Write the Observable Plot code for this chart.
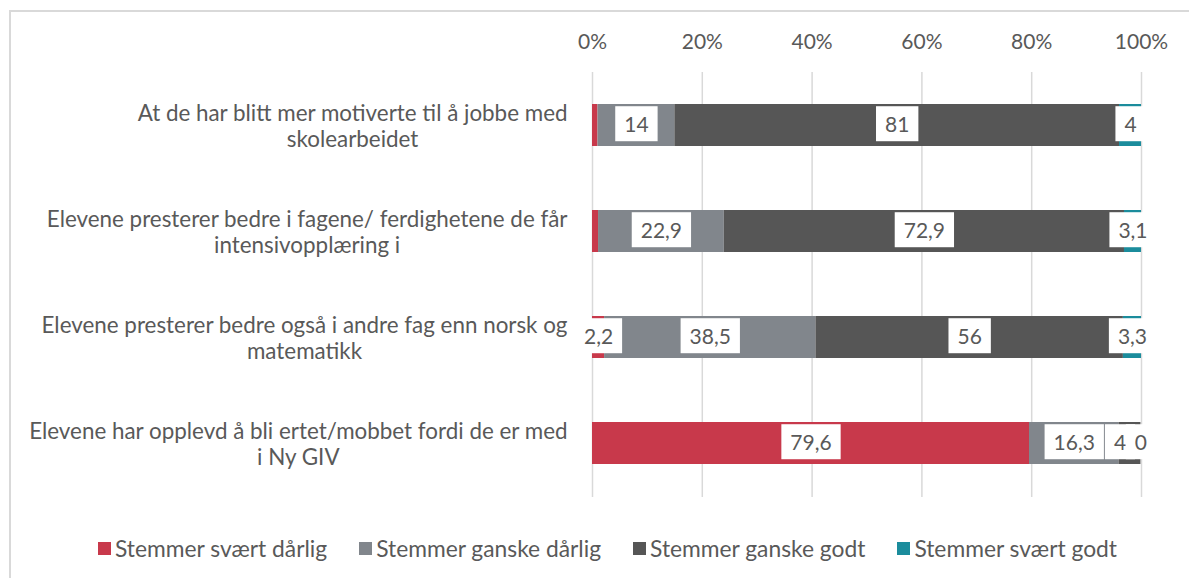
<!DOCTYPE html>
<html><head><meta charset="utf-8">
<script src="https://cdn.jsdelivr.net/npm/d3@7"></script>
<script src="https://cdn.jsdelivr.net/npm/@observablehq/plot@0.6"></script>
<style>
body{margin:0;background:#fff;overflow:hidden;width:1189px;height:578px;position:relative;font-family:Lato,"Open Sans",sans-serif;}
#frame{position:absolute;left:9px;top:10px;width:1300px;height:700px;border-left:2px solid #d9d9d9;border-top:2px solid #d9d9d9;box-sizing:border-box;}
#chart{position:absolute;left:0;top:0;}
#legend{position:absolute;left:0;top:536px;width:1189px;height:24px;display:flex;justify-content:center;align-items:center;padding-left:26px;box-sizing:border-box;font-size:22.8px;color:#595959;}
#legend .item{display:flex;align-items:center;margin:0 16px;white-space:nowrap;}
#legend .sw{width:13px;height:13px;margin-right:4px;display:inline-block;}
</style></head>
<body>
<div id="frame"></div>
<div id="chart"></div>
<div id="legend"></div>
<script>
const questions = [
  "At de har blitt mer motiverte til å jobbe med\nskolearbeidet",
  "Elevene presterer bedre i fagene/ ferdighetene de får\nintensivopplæring i",
  "Elevene presterer bedre også i andre fag enn norsk og\nmatematikk",
  "Elevene har opplevd å bli ertet/mobbet fordi de er med\ni Ny GIV"
];
const categories = ["Stemmer svært dårlig", "Stemmer ganske dårlig", "Stemmer ganske godt", "Stemmer svært godt"];
const colors = ["#C8394B", "#81868C", "#565656", "#1B8C9C"];
const sværtDårlig = [1, 1.1, 2.2, 79.6];
const ganskeDårlig = [14, 22.9, 38.5, 16.3];
const ganskeGodt = [81, 72.9, 56, 4];
const sværtGodt = [4, 3.1, 3.3, 0];
// whether a data label is shown (per question, per category)
const showLabel = [
  [false, true, true, true],
  [false, true, true, true],
  [true, true, true, true],
  [true, true, true, true]
];
const xTicks = [0, 20, 40, 60, 80, 100];

const series = [sværtDårlig, ganskeDårlig, ganskeGodt, sværtGodt];
const rows = [];
questions.forEach((q, i) => {
  categories.forEach((c, j) => {
    const v = series[j][i];
    rows.push({q, qi: i, ci: j, cat: c, value: v, label: showLabel[i][j] ? String(v).replace(".", ",") : null});
  });
});
// the crowded label in the last bar is nudged left, as in the original
const crowded = d => d.qi === 3 && d.ci === 2;

const textColor = "#595959";
const plot = Plot.plot({
  width: 1189,
  height: 510,
  marginLeft: 592,
  marginRight: 48,
  marginTop: 72,
  marginBottom: 13,
  style: {fontFamily: "Lato, 'Open Sans', sans-serif", background: "transparent"},
  x: {domain: [0, 100], label: null},
  y: {domain: questions, paddingInner: 0.6, paddingOuter: 0.3, axis: null},
  color: {domain: categories, range: colors},
  marks: [
    Plot.gridX(xTicks, {stroke: "#d9d9d9", strokeOpacity: 1, strokeWidth: 1.5}),
    Plot.axisX(xTicks, {anchor: "top", label: null, tickSize: 0, tickPadding: 24, tickFormat: d => d + "%", fontSize: 21, fill: textColor}),
    Plot.barX(rows, {x: "value", y: "q", fill: "cat"}),
    Plot.text(rows, Plot.stackX({x: "value", y: "q", z: "cat", text: d => crowded(d) ? d.label : null, dx: -10, fontSize: 21, fill: textColor})),
    Plot.text(rows, Plot.stackX({x: "value", y: "q", z: "cat", text: d => crowded(d) ? null : d.label, fontSize: 21, fill: textColor})),
    Plot.text(questions, {x: 0, y: d => d, text: d => d, textAnchor: "end", dx: -25, lineHeight: 1.18, fontSize: 22.4, fill: textColor})
  ]
});
document.getElementById("chart").append(plot);

const textGroups = plot.querySelectorAll('g[aria-label="text"]');
const yGroup = textGroups[textGroups.length - 1];
const ns = "http://www.w3.org/2000/svg";
Array.from(textGroups).slice(0, textGroups.length - 1).forEach(g => {
  g.querySelectorAll("text").forEach(t => {
    if (!t.textContent) return;
    const b = t.getBBox();
    const w = b.width + 18, h = 35;
    const r = document.createElementNS(ns, "rect");
    r.setAttribute("x", b.x + b.width / 2 - w / 2);
    r.setAttribute("y", b.y + b.height / 2 - h / 2);
    r.setAttribute("width", w);
    r.setAttribute("height", h);
    r.setAttribute("fill", "white");
    const tr = t.getAttribute("transform");
    if (tr) r.setAttribute("transform", tr);
    t.parentNode.insertBefore(r, t);
  });
});
yGroup.querySelectorAll("text").forEach(t => {
  const spans = t.querySelectorAll("tspan");
  let W = 0;
  (spans.length ? Array.from(spans) : [t]).forEach(s => { W = Math.max(W, s.getComputedTextLength()); });
  t.setAttribute("text-anchor", "middle");
  const tr = t.getAttribute("transform") || "";
  t.setAttribute("transform", tr + ` translate(${-W / 2},0)`);
});

const legend = document.getElementById("legend");
categories.forEach((c, j) => {
  const it = document.createElement("span");
  it.className = "item";
  const sw = document.createElement("span");
  sw.className = "sw";
  sw.style.background = colors[j];
  it.append(sw, document.createTextNode(c));
  legend.append(it);
});
</script>
</body></html>
